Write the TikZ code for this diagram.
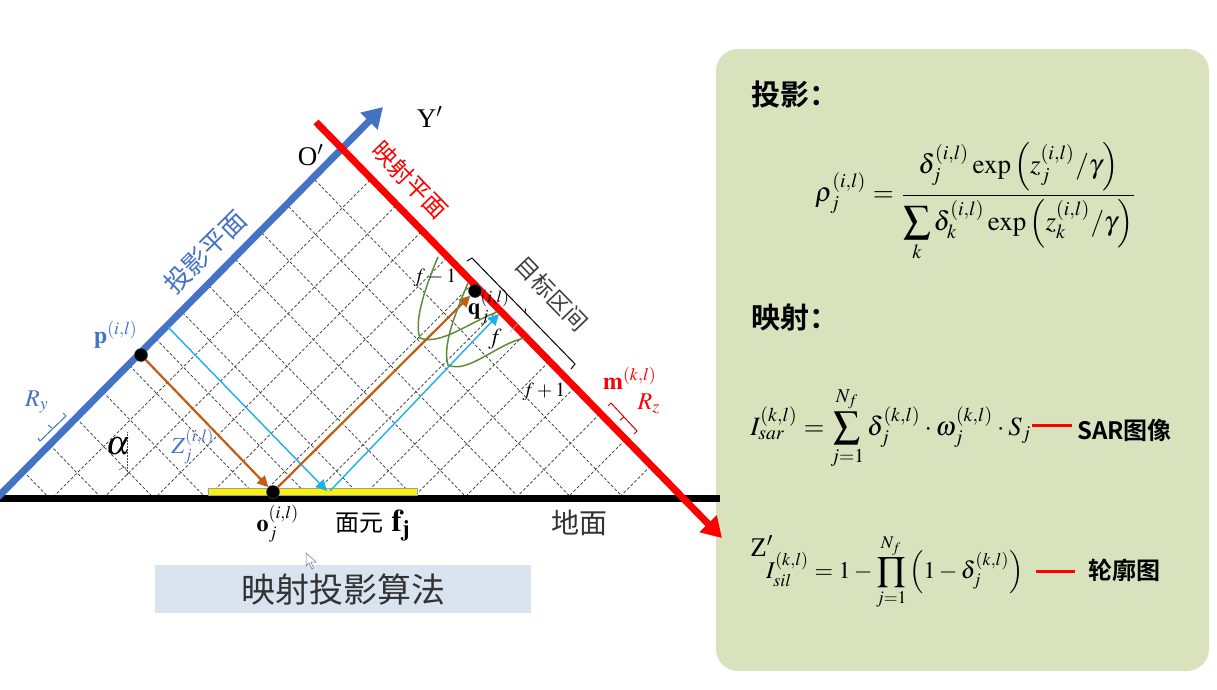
\documentclass[tikz,border=0pt]{standalone}
\usepackage{amsmath}
\usepackage{mathptmx}
\usepackage[no-math]{fontspec}
\setmainfont{Liberation Serif}
\newfontfamily\cjk{Noto Sans CJK SC}
\newfontfamily\cjkb{Noto Sans CJK SC Bold}
\usetikzlibrary{arrows.meta}
\definecolor{bluel}{HTML}{4472C4}
\definecolor{redl}{HTML}{FF0000}
\definecolor{brownl}{HTML}{C55A11}
\definecolor{cyanl}{HTML}{1CB0E8}
\definecolor{greenl}{HTML}{5E8C3A}
\definecolor{panel}{HTML}{D8E3BE}
\definecolor{boxfill}{HTML}{DAE3F0}
\tikzset{
  x=1pt,y=-1pt,
  gridline/.style={dash pattern=on 3pt off 2pt,black!80,line width=0.7pt},
  rayb/.style={brownl,line width=2.2pt,-{Triangle[length=11pt,width=11pt]}},
  rayc/.style={cyanl,line width=1.4pt,-{Triangle[length=11pt,width=11pt]}},
  curveg/.style={greenl,line width=1.5pt},
  dotn/.style={circle,fill=black,draw=bluel!60!black,line width=0.5pt,inner sep=0pt,minimum size=13pt},
  lab/.style={inner sep=0pt,scale=#1},
  zh/.style={inner sep=0pt,font=\fontsize{#1}{#1}\selectfont\cjk},
  zhb/.style={inner sep=0pt,font=\fontsize{#1}{#1}\selectfont\cjkb},
  brk/.style={line width=1pt},
}
\begin{document}
\begin{tikzpicture}
\useasboundingbox (0,0) rectangle (1217,690);
\fill[white] (0,0) rectangle (1217,690);
% panel and caption
\node[draw=none,fill=panel,rounded corners=22pt,minimum width=493pt,minimum height=622pt,inner sep=0pt] (panelbox) at (962.5,360) {};
\node[fill=boxfill,minimum width=376pt,minimum height=48pt,inner sep=0pt] (caption) at (343,589) {};
\node[zh=34,text=black!80] (captiontext) at (343,590) {映射投影算法};
% grid
\foreach \k in {0,...,11}{
  \pgfmathsetmacro{\ax}{315-26.5*\k}
  \pgfmathsetmacro{\ay}{180+26.5*\k}
  \pgfmathsetmacro{\bx}{\ax+(495-\ay)/1.03}
  \draw[gridline] (\ax,\ay) -- (\bx,495);
}
\foreach \k in {0,...,11}{
  \pgfmathsetmacro{\ax}{370+25.5*\k}
  \pgfmathsetmacro{\ay}{180+26*\k}
  \pgfmathsetmacro{\bx}{\ax-(495-\ay)}
  \draw[gridline] (\ax,\ay) -- (\bx,495);
}
% ground
\coordinate (g0) at (0,498.5); \coordinate (g1) at (720,498.5);
\draw[black,line width=6.5pt] (g0) -- (g1);
\node[draw=bluel!45!gray!70,fill=yellow,line width=1pt,minimum width=209pt,minimum height=6.5pt,inner sep=0pt] (facet) at (312.5,492) {};
% alpha mark
\coordinate (av0) at (127,432); \coordinate (av1) at (127,475);
\draw[black!70,densely dotted,line width=0.5pt] (av0) -- (av1);
\draw[black!70,line width=0.5pt] (119,470) arc[start angle=225,end angle=275,radius=9];
% blue and red axes
\coordinate (b0) at (-2,497); \coordinate (b1) at (383,107);
\coordinate (r0) at (316,122); \coordinate (r1) at (722,538);
\draw[bluel,line width=7pt,-{Triangle[length=20pt,width=23pt]}] (b0) -- (b1);
\draw[redl,line width=7pt,-{Triangle[length=20pt,width=23pt]}] (r0) -- (r1);
% points
\node[dotn] (p) at (141,355) {};
\node[dotn] (o) at (273,492) {};
\node[dotn] (q) at (475,291) {};
% rays
\coordinate (c0) at (168,327); \coordinate (c1) at (327,491);
\coordinate (c2) at (330,491); \coordinate (c3) at (499,314);
\draw[rayc] (c0) -- (c1);
\draw[rayc] (c2) -- (c3);
\draw[rayb] (p) -- (o);
\draw[rayb] (o) -- (q);
% green curves
\coordinate (g1a) at (438,257); \coordinate (g1b) at (420,338); \coordinate (g1c) at (497,312);
\coordinate (g2a) at (468,283); \coordinate (g2b) at (448,365); \coordinate (g2c) at (524,338);
\draw[curveg] (g1a) .. controls (424,290) and (414,322) .. (g1b) .. controls (440,346) and (470,322) .. (g1c);
\draw[curveg] (g2a) .. controls (456,312) and (442,345) .. (g2b) .. controls (468,374) and (495,345) .. (g2c);
% brackets
\draw[brk] (467,261) -- (472,258) -- (575,364) -- (571,369);
\draw[brk] (525.5,308.5) -- (525,313);
\draw[brk,redl!80!black] (608,406) -- (611,403) -- (637,431) -- (634,434);
\draw[brk,redl!80!black] (624,417) -- (620,420);
\draw[brk,bluel] (38,438) -- (40,441) -- (66,416) -- (63,413);
\draw[brk,bluel] (52,428) -- (48,425);
\draw[bluel!50,line width=0.6pt] (510,332) -- (519,322);
% mouse cursor
\draw[black!55,fill=white,line width=0.5pt] (306,553) -- (306,566) -- (309,563) -- (312,569) -- (313.5,568) -- (311,562) -- (316,562) -- cycle;
% labels
\node[lab=2.7] (yp) at (430,117) {Y$'$};
\node[lab=2.7] (op) at (311,155) {O$'$};
\node[zh=26,text=bluel,rotate=45] (tplane) at (205,252) {投影平面};
\node[zh=24,text=redl,rotate=-46] (mplane) at (410,180) {映射平面};
\node[zh=23,text=black!75,rotate=-46] (target) at (552,294) {目标区间};
\node[zh=28,text=black!80] (ground) at (579,523) {地面};
\node[inner sep=0pt] (facetl) at (373,526) {\fontsize{24}{24}\selectfont\cjk 面元\hspace{8pt}\rmfamily\scalebox{1.3}{$\mathbf{f_j}$}};
\node[lab=2.4,text=bluel] (pl) at (116,335) {$\mathbf{p}^{(i,l)}$};
\node[lab=2.4,text=bluel] (ry) at (37,402) {$R_y$};
\node[lab=2.3,text=bluel] (zj) at (193,446) {$Z_j^{(i,l)}$};
\node[lab=3.4] (al) at (118,446) {$\alpha$};
\node[lab=2.4] (ol) at (278,524) {$\mathbf{o}_j^{(i,l)}$};
\node[lab=2.3] (ql) at (489,307) {$\mathbf{q}_j^{(i,l)}$};
\node[lab=2] (f1) at (435,278) {$f-1$};
\node[lab=2.3] (f2) at (495,339) {$f$};
\node[lab=2] (f3) at (544,392) {$f+1$};
\node[lab=2.4,text=redl] (ml) at (630,378) {$\mathbf{m}^{(k,l)}$};
\node[lab=2.4,text=redl] (rz) at (649,404) {$R_z$};
% panel text
\node[zhb=29,anchor=west] (h1) at (751,94) {投影：};
\node[zhb=29,anchor=west] (h2) at (751,318) {映射：};
\node[inner sep=0pt,scale=2.7] (rho) at (976,202) {$\displaystyle \rho_j^{(i,l)}=\frac{\delta_j^{(i,l)}\exp\left(z_j^{(i,l)}/\gamma\right)}{\displaystyle\sum_k\delta_k^{(i,l)}\exp\left(z_k^{(i,l)}/\gamma\right)}$};
\node[inner sep=0pt,scale=2.65] (sar) at (891,428) {$\displaystyle I_{sar}^{(k,l)}=\sum_{j=1}^{N_f}\delta_j^{(k,l)}\cdot\omega_j^{(k,l)}\cdot S_j$};
\node[inner sep=0pt,scale=2.4] (sil) at (895,572) {$\displaystyle I_{sil}^{(k,l)}=1-\prod_{j=1}^{N_f}\left(1-\delta_j^{(k,l)}\right)$};
\node[lab=2.7] (zp) at (762,546) {Z$'$};
\coordinate (l1a) at (1032,425); \coordinate (l1b) at (1072,425);
\coordinate (l2a) at (1036,571); \coordinate (l2b) at (1075,571);
\draw[redl,line width=3pt] (l1a) -- (l1b);
\draw[redl,line width=3pt] (l2a) -- (l2b);
\node[zhb=24,anchor=west] (sart) at (1077,430) {SAR图像};
\node[zhb=24,anchor=west] (silt) at (1088,570) {轮廓图};
\end{tikzpicture}
\end{document}
